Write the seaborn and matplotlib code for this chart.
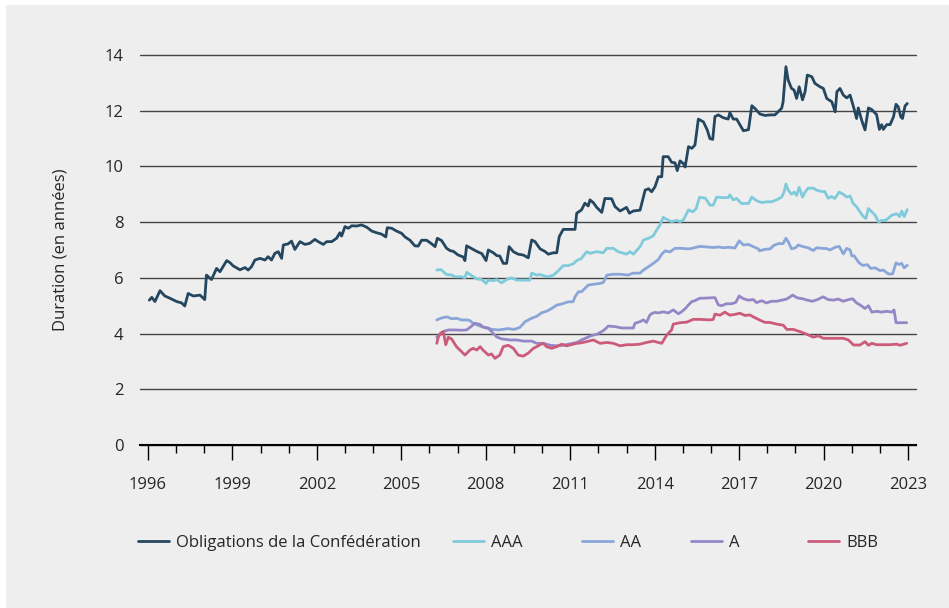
import numpy as np
import pandas as pd
import matplotlib
matplotlib.use("Agg")
import matplotlib.pyplot as plt
from matplotlib.patches import Rectangle
from matplotlib.ticker import MultipleLocator
import seaborn as sns

# values (x = fractional year, y = duration in years)
conf_years = [1996.05, 1996.14, 1996.25, 1996.43, 1996.6, 1996.78, 1997.02, 1997.2, 1997.31, 1997.43,
              1997.61, 1997.85, 1998.02, 1998.08, 1998.26, 1998.44, 1998.56, 1998.8, 1998.91, 1999.03,
              1999.27, 1999.45, 1999.56, 1999.68, 1999.8, 1999.98, 2000.16, 2000.27, 2000.39, 2000.51,
              2000.63, 2000.75, 2000.81, 2000.98, 2001.1, 2001.22, 2001.4, 2001.58, 2001.75, 2001.93,
              2002.05, 2002.23, 2002.35, 2002.53, 2002.7, 2002.82, 2002.88, 2003.0, 2003.12, 2003.24,
              2003.41, 2003.59, 2003.77, 2003.95, 2004.12, 2004.3, 2004.45, 2004.5, 2004.66, 2004.83,
              2005.01, 2005.13, 2005.31, 2005.48, 2005.6, 2005.72, 2005.9, 2006.08, 2006.2, 2006.28,
              2006.43, 2006.61, 2006.73, 2006.85, 2007.02, 2007.2, 2007.26, 2007.32, 2007.5, 2007.68,
              2007.86, 2008.01, 2008.09, 2008.27, 2008.39, 2008.5, 2008.62, 2008.74, 2008.83, 2008.98,
              2009.15, 2009.33, 2009.51, 2009.63, 2009.75, 2009.93, 2010.1, 2010.22, 2010.4, 2010.52,
              2010.61, 2010.75, 2011.17, 2011.23, 2011.4, 2011.52, 2011.64, 2011.7, 2011.82, 2011.94,
              2012.12, 2012.23, 2012.47, 2012.59, 2012.77, 2013.0, 2013.1, 2013.24, 2013.48, 2013.66,
              2013.78, 2013.89, 2014.01, 2014.13, 2014.25, 2014.3, 2014.48, 2014.6, 2014.72, 2014.8,
              2014.9, 2015.02, 2015.08, 2015.2, 2015.32, 2015.43, 2015.55, 2015.73, 2015.87, 2015.96,
              2016.06, 2016.14, 2016.26, 2016.43, 2016.61, 2016.67, 2016.79, 2016.91, 2017.03, 2017.15,
              2017.33, 2017.45, 2017.56, 2017.74, 2017.92, 2018.1, 2018.27, 2018.39, 2018.51, 2018.56,
              2018.66, 2018.74, 2018.86, 2018.95, 2019.04, 2019.13, 2019.25, 2019.34, 2019.42, 2019.58,
              2019.69, 2019.87, 2019.99, 2020.11, 2020.29, 2020.41, 2020.47, 2020.58, 2020.7, 2020.82,
              2020.94, 2021.06, 2021.17, 2021.23, 2021.35, 2021.47, 2021.59, 2021.71, 2021.88, 2021.98,
              2022.06, 2022.12, 2022.24, 2022.36, 2022.48, 2022.57, 2022.65, 2022.74, 2022.8, 2022.89,
              2022.97]
conf_values = [5.2, 5.3, 5.15, 5.54, 5.35, 5.27, 5.15, 5.1, 4.99, 5.44,
               5.35, 5.38, 5.22, 6.1, 5.94, 6.34, 6.22, 6.62, 6.55, 6.43,
               6.29, 6.37, 6.28, 6.4, 6.64, 6.7, 6.64, 6.76, 6.64, 6.88,
               6.94, 6.7, 7.18, 7.22, 7.32, 7.02, 7.3, 7.2, 7.24, 7.38,
               7.3, 7.2, 7.3, 7.3, 7.42, 7.62, 7.5, 7.84, 7.78, 7.87,
               7.86, 7.9, 7.82, 7.68, 7.62, 7.57, 7.47, 7.8, 7.78, 7.68,
               7.6, 7.47, 7.35, 7.15, 7.14, 7.35, 7.35, 7.22, 7.12, 7.42,
               7.34, 7.06, 6.98, 6.95, 6.82, 6.75, 6.62, 7.15, 7.05, 6.95,
               6.87, 6.62, 7.0, 6.9, 6.8, 6.78, 6.52, 6.52, 7.12, 6.94,
               6.85, 6.82, 6.72, 7.36, 7.3, 7.04, 6.95, 6.85, 6.9, 6.9,
               7.48, 7.74, 7.74, 8.32, 8.44, 8.68, 8.58, 8.8, 8.7, 8.53,
               8.35, 8.85, 8.84, 8.56, 8.4, 8.53, 8.32, 8.4, 8.43, 9.15,
               9.2, 9.09, 9.27, 9.63, 9.63, 10.35, 10.35, 10.15, 10.13, 9.85,
               10.2, 10.1, 9.98, 10.71, 10.65, 10.77, 11.7, 11.6, 11.3, 11.0,
               10.97, 11.79, 11.85, 11.75, 11.7, 11.93, 11.7, 11.7, 11.49, 11.28,
               11.32, 12.18, 12.08, 11.88, 11.83, 11.85, 11.85, 11.97, 12.09, 12.32,
               13.58, 13.1, 12.8, 12.74, 12.44, 12.86, 12.39, 12.68, 13.28, 13.22,
               12.98, 12.86, 12.8, 12.44, 12.32, 11.96, 12.68, 12.8, 12.56, 12.46,
               12.56, 12.14, 11.72, 12.1, 11.66, 11.31, 12.1, 12.04, 11.86, 11.33,
               11.5, 11.33, 11.5, 11.5, 11.78, 12.23, 12.14, 11.78, 11.72, 12.17,
               12.26]

aaa_years = [2006.26, 2006.4, 2006.61, 2006.8, 2006.9, 2007.15, 2007.26, 2007.32, 2007.5, 2007.68,
             2007.86, 2008.01, 2008.09, 2008.27, 2008.39, 2008.56, 2008.74, 2008.92, 2009.1, 2009.57,
             2009.63, 2009.8, 2009.93, 2010.1, 2010.22, 2010.4, 2010.52, 2010.64, 2010.75, 2010.93,
             2011.1, 2011.23, 2011.4, 2011.58, 2011.7, 2011.94, 2012.17, 2012.3, 2012.53, 2012.7,
             2013.0, 2013.12, 2013.24, 2013.48, 2013.6, 2013.78, 2013.95, 2014.07, 2014.19, 2014.3,
             2014.48, 2014.6, 2014.78, 2014.9, 2015.02, 2015.2, 2015.35, 2015.47, 2015.59, 2015.8,
             2015.96, 2016.08, 2016.2, 2016.43, 2016.61, 2016.67, 2016.79, 2016.91, 2017.08, 2017.2,
             2017.33, 2017.45, 2017.6, 2017.8, 2017.97, 2018.15, 2018.33, 2018.51, 2018.6, 2018.66,
             2018.74, 2018.86, 2018.95, 2019.04, 2019.13, 2019.25, 2019.34, 2019.45, 2019.63, 2019.75,
             2019.92, 2020.04, 2020.16, 2020.28, 2020.4, 2020.55, 2020.7, 2020.82, 2020.94, 2021.05,
             2021.17, 2021.29, 2021.41, 2021.5, 2021.59, 2021.71, 2021.83, 2021.95, 2022.06, 2022.19,
             2022.3, 2022.42, 2022.6, 2022.7, 2022.77, 2022.86, 2022.97]
aaa_values = [6.28, 6.3, 6.12, 6.1, 6.04, 6.04, 6.0, 6.2, 6.08, 5.96,
              5.94, 5.8, 5.92, 5.9, 5.94, 5.82, 5.94, 6.0, 5.92, 5.92,
              6.17, 6.1, 6.12, 6.06, 6.04, 6.1, 6.2, 6.32, 6.44, 6.44,
              6.5, 6.62, 6.7, 6.94, 6.88, 6.94, 6.9, 7.06, 7.06, 6.94,
              6.85, 6.94, 6.85, 7.12, 7.36, 7.42, 7.51, 7.72, 7.9, 8.17,
              8.07, 8.02, 8.06, 8.02, 8.08, 8.44, 8.37, 8.48, 8.89, 8.86,
              8.61, 8.61, 8.9, 8.88, 8.88, 8.98, 8.8, 8.85, 8.67, 8.67,
              8.67, 8.9, 8.78, 8.7, 8.73, 8.73, 8.8, 8.9, 9.1, 9.37,
              9.15, 9.0, 9.08, 8.96, 9.25, 8.9, 9.08, 9.22, 9.22, 9.15,
              9.1, 9.1, 8.86, 8.92, 8.85, 9.08, 9.0, 8.9, 8.94, 8.67,
              8.55, 8.37, 8.2, 8.13, 8.49, 8.37, 8.25, 8.0, 8.06, 8.06,
              8.14, 8.25, 8.3, 8.2, 8.4, 8.2, 8.45]

aa_years = [2006.26, 2006.4, 2006.61, 2006.8, 2006.96, 2007.14, 2007.32, 2007.43, 2007.55, 2007.79,
            2008.02, 2008.25, 2008.43, 2008.6, 2008.78, 2009.01, 2009.21, 2009.4, 2009.63, 2009.81,
            2009.99, 2010.16, 2010.34, 2010.52, 2010.64, 2010.75, 2010.93, 2011.1, 2011.17, 2011.29,
            2011.4, 2011.52, 2011.64, 2011.82, 2012.06, 2012.18, 2012.3, 2012.53, 2012.77, 2013.05,
            2013.24, 2013.48, 2013.6, 2013.78, 2013.95, 2014.13, 2014.25, 2014.37, 2014.54, 2014.72,
            2014.95, 2015.2, 2015.32, 2015.6, 2015.84, 2016.08, 2016.26, 2016.43, 2016.61, 2016.85,
            2017.0, 2017.15, 2017.33, 2017.5, 2017.68, 2017.72, 2017.9, 2018.1, 2018.22, 2018.39,
            2018.56, 2018.66, 2018.74, 2018.86, 2019.0, 2019.1, 2019.27, 2019.45, 2019.63, 2019.75,
            2019.93, 2020.11, 2020.23, 2020.41, 2020.55, 2020.7, 2020.82, 2020.94, 2021.0, 2021.08,
            2021.26, 2021.38, 2021.56, 2021.67, 2021.83, 2022.0, 2022.12, 2022.3, 2022.45, 2022.57,
            2022.67, 2022.77, 2022.86, 2022.97]
aa_values = [4.49, 4.55, 4.6, 4.53, 4.55, 4.49, 4.49, 4.47, 4.37, 4.27,
             4.19, 4.15, 4.13, 4.15, 4.18, 4.15, 4.22, 4.43, 4.55, 4.62,
             4.75, 4.8, 4.9, 5.02, 5.05, 5.08, 5.14, 5.14, 5.32, 5.5,
             5.5, 5.62, 5.74, 5.77, 5.8, 5.84, 6.1, 6.13, 6.13, 6.1,
             6.17, 6.17, 6.28, 6.4, 6.52, 6.66, 6.85, 6.97, 6.93, 7.06,
             7.06, 7.04, 7.06, 7.13, 7.11, 7.09, 7.11, 7.08, 7.1, 7.07,
             7.33, 7.18, 7.2, 7.12, 7.04, 6.97, 7.02, 7.04, 7.16, 7.23,
             7.23, 7.42, 7.3, 7.04, 7.08, 7.18, 7.12, 7.08, 6.98, 7.08,
             7.06, 7.05, 7.0, 7.1, 7.13, 6.86, 7.06, 7.0, 6.79, 6.79,
             6.54, 6.45, 6.47, 6.34, 6.36, 6.26, 6.28, 6.14, 6.14, 6.54,
             6.48, 6.52, 6.36, 6.45]

a_years = [2006.26, 2006.38, 2006.49, 2006.67, 2006.9, 2007.14, 2007.32, 2007.5, 2007.61, 2007.79,
           2007.9, 2008.09, 2008.27, 2008.39, 2008.56, 2008.86, 2009.1, 2009.33, 2009.63, 2009.81,
           2010.04, 2010.28, 2010.52, 2010.75, 2010.99, 2011.23, 2011.4, 2011.58, 2011.76, 2011.94,
           2012.12, 2012.23, 2012.35, 2012.59, 2012.83, 2013.07, 2013.24, 2013.3, 2013.48, 2013.6,
           2013.71, 2013.83, 2013.92, 2014.01, 2014.13, 2014.3, 2014.48, 2014.66, 2014.84, 2014.95,
           2015.1, 2015.2, 2015.32, 2015.43, 2015.6, 2015.73, 2015.9, 2016.14, 2016.26, 2016.38,
           2016.55, 2016.73, 2016.88, 2017.0, 2017.15, 2017.33, 2017.5, 2017.62, 2017.8, 2017.97,
           2018.15, 2018.33, 2018.51, 2018.69, 2018.9, 2019.07, 2019.25, 2019.42, 2019.6, 2019.78,
           2019.98, 2020.16, 2020.34, 2020.52, 2020.7, 2020.88, 2021.03, 2021.17, 2021.29, 2021.47,
           2021.59, 2021.71, 2021.88, 2022.06, 2022.24, 2022.42, 2022.5, 2022.57, 2022.71, 2022.95]
a_values = [3.87, 4.0, 4.07, 4.13, 4.13, 4.12, 4.13, 4.27, 4.37, 4.33,
            4.24, 4.2, 4.0, 3.88, 3.81, 3.77, 3.77, 3.73, 3.73, 3.65,
            3.65, 3.58, 3.56, 3.58, 3.63, 3.68, 3.77, 3.85, 3.93, 3.97,
            4.07, 4.15, 4.27, 4.25, 4.2, 4.2, 4.2, 4.37, 4.43, 4.49,
            4.4, 4.67, 4.73, 4.76, 4.74, 4.78, 4.74, 4.85, 4.71, 4.78,
            4.91, 5.03, 5.15, 5.18, 5.27, 5.27, 5.28, 5.29, 5.03, 5.0,
            5.07, 5.07, 5.12, 5.35, 5.25, 5.2, 5.22, 5.11, 5.18, 5.1,
            5.16, 5.16, 5.2, 5.24, 5.38, 5.28, 5.25, 5.2, 5.16, 5.22,
            5.32, 5.22, 5.2, 5.24, 5.16, 5.22, 5.25, 5.1, 5.03, 4.9,
            5.0, 4.77, 4.8, 4.77, 4.8, 4.77, 4.85, 4.39, 4.39, 4.39]

bbb_years = [2006.26, 2006.32, 2006.4, 2006.49, 2006.58, 2006.67, 2006.79, 2006.96, 2007.14, 2007.26,
             2007.44, 2007.55, 2007.68, 2007.8, 2007.91, 2008.09, 2008.2, 2008.33, 2008.5, 2008.62,
             2008.8, 2008.98, 2009.15, 2009.33, 2009.51, 2009.69, 2009.81, 2009.93, 2010.04, 2010.16,
             2010.34, 2010.52, 2010.7, 2010.87, 2011.23, 2011.4, 2011.58, 2011.82, 2012.06, 2012.3,
             2012.53, 2012.77, 2013.0, 2013.24, 2013.48, 2013.71, 2013.95, 2014.13, 2014.25, 2014.43,
             2014.6, 2014.66, 2014.9, 2015.14, 2015.37, 2015.61, 2015.96, 2016.08, 2016.14, 2016.32,
             2016.49, 2016.67, 2016.85, 2017.03, 2017.2, 2017.38, 2017.5, 2017.74, 2017.92, 2018.09,
             2018.33, 2018.57, 2018.69, 2018.92, 2019.16, 2019.39, 2019.63, 2019.81, 2019.99, 2020.22,
             2020.46, 2020.7, 2020.88, 2021.06, 2021.29, 2021.47, 2021.59, 2021.71, 2021.88, 2022.12,
             2022.36, 2022.6, 2022.71, 2022.95]
bbb_values = [3.65, 3.89, 4.0, 4.07, 3.6, 3.87, 3.8, 3.53, 3.35, 3.23,
              3.41, 3.47, 3.41, 3.53, 3.4, 3.23, 3.27, 3.11, 3.23, 3.53,
              3.58, 3.47, 3.23, 3.19, 3.3, 3.47, 3.53, 3.6, 3.65, 3.53,
              3.47, 3.53, 3.62, 3.56, 3.65, 3.67, 3.71, 3.77, 3.65, 3.68,
              3.65, 3.56, 3.6, 3.6, 3.62, 3.68, 3.73, 3.68, 3.65, 3.95,
              4.13, 4.34, 4.39, 4.41, 4.51, 4.51, 4.49, 4.51, 4.7, 4.66,
              4.77, 4.66, 4.69, 4.73, 4.65, 4.67, 4.6, 4.48, 4.4, 4.4,
              4.34, 4.3, 4.15, 4.15, 4.07, 3.98, 3.87, 3.92, 3.83, 3.83,
              3.83, 3.83, 3.77, 3.59, 3.59, 3.71, 3.58, 3.65, 3.6, 3.6,
              3.6, 3.62, 3.58, 3.65]

series_names = ["Obligations de la Confédération", "AAA", "AA", "A", "BBB"]
series_colors = ["#24475f", "#7fcbdb", "#8aa6d8", "#9587c6", "#cc5b7a"]

xticks = [1996, 1999, 2002, 2005, 2008, 2011, 2014, 2017, 2020, 2023]
yticks = [0, 2, 4, 6, 8, 10, 12, 14]

frames = []
for name, xs, ys in zip(series_names,
                        [conf_years, aaa_years, aa_years, a_years, bbb_years],
                        [conf_values, aaa_values, aa_values, a_values, bbb_values]):
    frames.append(pd.DataFrame({"year": xs, "duration": ys, "serie": name}))
df = pd.concat(frames, ignore_index=True)

sns.set_theme(style="white")
plt.rcParams['font.family'] = ['Open Sans', 'DejaVu Sans']
bg = "#eeeeee"
fs = 12

fig = plt.figure(figsize=(9.49, 6.08), dpi=100)
fig.patch.set_facecolor("white")
fig.patches.append(Rectangle((6 / 949, 0), 1, 1 - 5 / 608, transform=fig.transFigure,
                             facecolor=bg, edgecolor="none", zorder=-10))
ax = fig.add_axes([140 / 949, 1 - 445 / 608, 776 / 949, 390 / 608])
ax.set_facecolor(bg)

sns.lineplot(data=df, x="year", y="duration", hue="serie", hue_order=series_names,
             palette=series_colors, estimator=None, sort=False, linewidth=2.0, ax=ax, legend=True)

ax.set_xlim(1995.72, 2023.28)
ax.set_ylim(0, 14)
ax.set_yticks(yticks)
ax.set_xticks(xticks)
ax.xaxis.set_minor_locator(MultipleLocator(1))
ax.grid(axis="y", color="#444444", linewidth=1.0)
ax.set_axisbelow(True)
for gl in ax.get_ygridlines():
    gl.set_clip_on(False)
for side in ["top", "right", "left"]:
    ax.spines[side].set_visible(False)
ax.spines["bottom"].set_color("black")
ax.spines["bottom"].set_linewidth(1.5)
ax.tick_params(axis="x", which="major", direction="out", length=11, width=1.0,
               color="black", labelsize=fs, pad=12, bottom=True)
ax.tick_params(axis="x", which="minor", direction="out", length=5.5, width=1.0,
               color="black", bottom=True)
ax.tick_params(axis="y", length=0, labelsize=fs, pad=12)
ax.set_xlabel("")
ax.set_ylabel("Duration (en années)", fontsize=fs, labelpad=26)

handles, labels = ax.get_legend_handles_labels()
ax.get_legend().remove()

# each legend entry sits at its own spot, as in the original layout
legend_x = [138, 453, 582, 691, 808]
for h, lab, lx in zip(handles, labels, legend_x):
    fig.legend([h], [lab], loc="center left", bbox_to_anchor=(lx / 949, 1 - 543 / 608),
               frameon=False, fontsize=fs, handlelength=1.85, handletextpad=0.45,
               borderpad=0, borderaxespad=0)

fig.savefig("out.png", dpi=100, facecolor=fig.get_facecolor())
